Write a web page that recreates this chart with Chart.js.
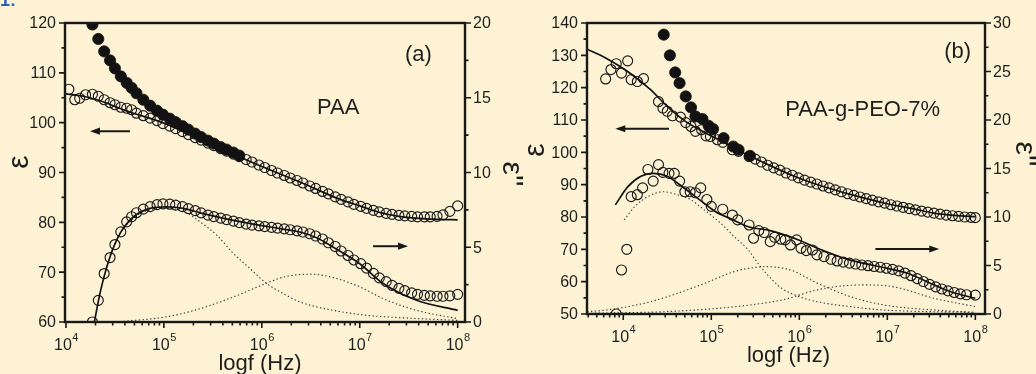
<!DOCTYPE html>
<html>
<head>
<meta charset="utf-8">
<title>Dielectric spectra of PAA and PAA-g-PEO-7%</title>
<script src="https://cdn.jsdelivr.net/npm/chart.js@4/dist/chart.umd.min.js"></script>
<style>
  html, body { margin: 0; padding: 0; background: #FDF3D4; }
  #wrap { position: relative; width: 1036px; height: 374px; overflow: hidden; background: #FDF3D4; }
  canvas { position: absolute; top: 0; }
  #paaCanvas { left: 0; width: 536px; height: 374px; }
  #pegCanvas { left: 518px; width: 518px; height: 374px; }
</style>
</head>
<body>
<div id="wrap">
  <canvas id="paaCanvas" width="536" height="374"></canvas>
  <canvas id="pegCanvas" width="518" height="374"></canvas>
</div>
<script>
// ---------- Panel (a): PAA ----------
// measurement frequencies, log10(f / Hz)
const paaLogF = [4.03,4.09,4.14,4.20,4.27,4.33,4.39,4.45,4.50,4.56,4.62,4.67,4.72,4.79,4.86,4.93,4.99,
  5.06,5.12,5.19,5.25,5.32,5.38,5.45,5.51,5.58,5.64,5.71,5.77,5.84,5.90,5.97,6.03,6.10,6.16,6.23,6.29,6.36,6.42,
  6.49,6.55,6.62,6.68,6.75,6.81,6.88,6.94,7.01,7.07,7.14,7.20,7.27,7.33,7.40,7.46,7.53,7.59,7.66,7.72,7.79,7.85,7.92,8.00];
// real permittivity (open circles, left axis)
const paaReal = [106.7,104.6,104.9,105.6,105.7,105.3,104.6,104.0,103.6,103.1,102.9,102.6,101.9,101.4,100.9,100.4,99.8,
  99.3,98.8,98.2,97.6,97.0,96.5,95.9,95.4,94.8,94.3,93.7,93.2,92.6,92.1,91.5,91.0,90.4,89.9,89.4,88.9,88.4,87.9,
  87.3,86.8,86.2,85.7,85.1,84.6,84.1,83.6,83.2,82.8,82.4,82.1,81.8,81.6,81.4,81.3,81.2,81.1,81.1,81.1,81.2,81.5,82.2,83.3];
// loss (open circles, right axis)
const paaLoss = [null,null,null,null,0.0,1.45,3.24,4.31,5.18,6.03,6.70,7.04,7.31,7.55,7.72,7.85,7.90,
  7.88,7.82,7.72,7.58,7.45,7.30,7.15,7.05,6.95,6.85,6.75,6.65,6.55,6.48,6.43,6.38,6.33,6.28,6.23,6.17,6.10,6.02,
  5.90,5.75,5.55,5.30,5.05,4.75,4.45,4.15,3.90,3.60,3.25,2.95,2.70,2.45,2.25,2.10,1.95,1.85,1.78,1.75,1.72,1.72,1.75,1.85];
// real permittivity before conductivity correction (filled circles, left axis)
const paaCond = [null,null,null,null,119.7,116.8,114.3,112.5,110.9,109.3,108.0,107.0,105.9,104.6,103.4,102.4,101.6,
  100.8,100.1,99.3,98.6,97.8,97.1,96.4,95.8,95.1,94.6,94.0,93.4];
// fitted curves (solid)
const paaFitRealLogF = [3.99,4.20,4.35,4.60,5.00,5.50,6.00,6.40,6.80,7.00,7.20,7.40,7.60,7.80,8.00];
const paaFitReal = [105.8,105.2,104.4,102.5,99.9,95.5,91.2,88.0,84.6,83.3,82.0,81.2,80.8,80.6,80.5];
const paaFitLossLogF = [4.29,4.35,4.45,4.55,4.69,4.86,5.03,5.20,5.37,5.50,5.71,6.00,6.23,6.40,6.57,6.73,7.00,7.24,7.58,8.00];
const paaFitLoss = [0.0,2.0,4.36,5.9,7.04,7.6,7.7,7.6,7.3,7.1,6.8,6.45,6.2,6.0,5.6,5.0,3.9,2.57,1.45,0.78];
// relaxation components (dotted)
const paaRelax1LogF = [4.45,4.55,4.70,4.85,5.00,5.12,5.23,5.37,5.54,5.71,5.88,6.05,6.22,6.39,6.73,7.07,7.41,8.00];
const paaRelax1 = [4.5,5.9,7.0,7.5,7.6,7.55,7.3,6.7,5.81,4.58,3.57,2.57,1.9,1.34,0.78,0.45,0.29,0.11];
const paaRelax2LogF = [4.55,5.03,5.37,5.71,6.00,6.22,6.49,6.73,7.00,7.24,7.58,8.00];
const paaRelax2 = [0.02,0.35,0.89,1.68,2.46,3.0,3.2,2.97,2.35,1.56,0.78,0.22];

// ---------- Panel (b): PAA-g-PEO-7% ----------
const pegRealLogF = [3.80,3.86,3.92,3.98,4.05,4.09,4.16,4.23,4.40,4.45,4.50,4.56,4.65,4.71,4.77,4.82,4.89,4.94,4.99,5.07,5.13,5.24,5.31,5.43,
  5.50,5.57,5.64,5.71,5.78,5.85,5.92,5.99,6.06,6.13,6.20,6.27,6.34,6.41,6.48,6.55,6.62,6.69,6.76,6.83,6.90,6.97,
  7.04,7.11,7.18,7.25,7.32,7.39,7.46,7.53,7.60,7.67,7.74,7.81,7.88,7.95,8.00];
const pegReal = [122.7,125.6,127.4,124.5,128.3,122.5,121.9,122.8,115.7,113.7,112.7,111.3,110.9,109.2,108.0,106.5,107.0,105.1,104.9,103.9,103.1,100.8,100.3,98.7,
  97.9,97.0,96.0,95.2,94.5,93.6,92.9,92.1,91.4,90.8,90.2,89.6,89.0,88.4,87.8,87.2,86.7,86.2,85.7,85.2,84.7,84.3,
  83.8,83.4,83.0,82.6,82.2,81.8,81.5,81.2,80.9,80.6,80.4,80.2,80.0,79.9,79.8];
const pegLossLogF = [3.92,3.98,4.04,4.09,4.16,4.22,4.28,4.34,4.40,4.45,4.52,4.58,4.64,4.70,4.76,4.82,4.88,4.95,5.00,5.13,5.24,5.30,5.43,5.48,
  5.54,5.60,5.67,5.72,5.79,5.84,5.90,5.97,6.02,6.08,6.15,6.20,6.28,6.36,6.43,6.50,6.57,6.64,6.71,6.78,6.85,6.92,
  6.99,7.06,7.13,7.20,7.27,7.34,7.41,7.48,7.55,7.62,7.69,7.76,7.83,7.90,8.00];
const pegLoss = [0.0,4.54,6.67,12.1,12.3,13.0,14.9,13.7,15.4,14.6,14.5,14.5,13.7,12.6,12.6,12.5,13.0,11.8,11.1,10.8,10.2,9.7,9.18,7.81,
  8.6,8.4,7.46,7.91,7.71,7.64,7.12,7.64,6.78,6.54,6.60,6.09,5.92,5.64,5.47,5.35,5.25,5.15,5.05,4.98,4.90,4.82,
  4.72,4.60,4.45,4.22,3.95,3.65,3.35,3.05,2.80,2.58,2.38,2.22,2.08,1.98,1.95];
const pegCondLogF = [4.46,4.53,4.59,4.64,4.71,4.77,4.82,4.90,4.97,5.02,5.14,5.25,5.31,5.44];
const pegCond = [136.4,130.0,124.7,121.4,117.3,113.9,111.1,110.3,108.2,107.2,104.4,101.8,100.8,98.9];
const pegFitRealLogF = [3.59,3.80,4.05,4.31,4.50,4.69,4.88,5.07,5.26,5.45,5.70,6.00,6.30,6.58,7.00,7.30,7.53,7.80,8.00];
const pegFitReal = [131.9,129.2,125.0,119.4,114.2,109.9,106.8,104.1,101.3,98.7,95.5,92.0,89.2,87.0,84.1,82.5,81.2,80.4,80.1];
const pegFitLossLogF = [3.91,4.05,4.20,4.34,4.50,4.66,4.85,5.04,5.25,5.42,5.67,5.85,6.00,6.20,6.43,6.58,7.00,7.23,7.53,7.72,8.00];
const pegFitLoss = [11.25,13.1,14.2,14.5,14.2,13.2,11.9,10.6,9.7,9.0,8.6,8.1,7.6,6.8,6.0,5.55,4.71,4.2,3.0,2.3,1.62];
const pegRelax1LogF = [4.01,4.13,4.28,4.45,4.62,4.77,4.92,5.04,5.15,5.26,5.42,5.53,5.64,5.80,6.00,6.20,6.58,6.96,8.00];
const pegRelax1 = [9.7,11.07,12.1,12.6,12.28,11.76,10.73,9.87,9.0,7.98,6.6,5.23,4.02,2.65,1.79,1.27,0.76,0.41,0.17];
const pegRelax2LogF = [3.59,3.80,4.31,4.88,5.26,5.42,5.62,5.90,6.20,6.58,6.96,7.53,8.00];
const pegRelax2 = [0.24,0.4,1.27,3.0,4.37,4.7,4.88,4.54,3.2,1.79,0.93,0.41,0.17];
const pegRelax3LogF = [3.59,4.50,5.07,5.50,5.83,6.20,6.50,6.73,7.00,7.15,7.53,8.00];
const pegRelax3 = [0.07,0.25,0.58,1.0,1.5,2.48,2.9,3.0,2.9,2.65,1.62,0.76];

// ---------- axis tick labels ----------
const decadeTicks = [4, 5, 6, 7, 8];
const paaLeftTicks = [60, 70, 80, 90, 100, 110, 120];
const paaRightTicks = [0, 5, 10, 15, 20];
const pegLeftTicks = [50, 60, 70, 80, 90, 100, 110, 120, 130, 140];
const pegRightTicks = [0, 5, 10, 15, 20, 25, 30];

const INK = '#181818';
const TXT = '#1e1e1e';
const FONT = '"Liberation Sans", Arial, Helvetica, sans-serif';

function toPoints(logF, vals) {
  const out = [];
  for (let i = 0; i < vals.length; i++) {
    if (vals[i] === null || vals[i] === undefined) continue;
    out.push({ x: Math.pow(10, logF[i]), y: vals[i] });
  }
  return out;
}
function openCircles(data, axis) {
  return { data, yAxisID: axis, showLine: false, pointStyle: 'circle', pointRadius: 5,
    pointBorderWidth: 1.15, pointBorderColor: '#1a1a1a', pointBackgroundColor: 'rgba(0,0,0,0)', order: 2 };
}
function filledCircles(data, axis) {
  return { data, yAxisID: axis, showLine: false, pointStyle: 'circle', pointRadius: 5.6,
    pointBorderWidth: 0.8, pointBorderColor: '#121212', pointBackgroundColor: '#121212', order: 0 };
}
function fitLine(data, axis) {
  return { data, yAxisID: axis, showLine: true, borderColor: '#121212', borderWidth: 1.7,
    pointRadius: 0, cubicInterpolationMode: 'monotone', fill: false, order: 1 };
}
function relaxLine(data, axis) {
  return { data, yAxisID: axis, showLine: true, borderColor: '#383838', borderWidth: 1.1,
    borderDash: [1.4, 2.4], pointRadius: 0, cubicInterpolationMode: 'monotone', fill: false, order: 3 };
}

function framePlugin(spec) {
  return {
    id: 'frame_' + spec.name,
    afterDraw(chart) {
      const ctx = chart.ctx, a = chart.chartArea, s = chart.scales;
      ctx.save();
      // tick marks
      ctx.strokeStyle = INK;
      ctx.lineWidth = 1.6;
      ctx.beginPath();
      const xMin = s.x.min, xMax = s.x.max;
      for (let e = Math.floor(Math.log10(xMin)); e <= Math.ceil(Math.log10(xMax)); e++) {
        for (let m = 1; m <= 9; m++) {
          const v = m * Math.pow(10, e);
          if (v < xMin || v > xMax) continue;
          const p = s.x.getPixelForValue(v);
          ctx.moveTo(p, a.bottom);
          ctx.lineTo(p, a.bottom + (m === 1 ? 6 : 3.5));
        }
      }
      const yTicks = (scale, ticks, edge, dir) => {
        ticks.forEach((t, i) => {
          const p = scale.getPixelForValue(t);
          ctx.moveTo(edge, p); ctx.lineTo(edge + dir * 6, p);
          if (i < ticks.length - 1) {
            const q = scale.getPixelForValue((t + ticks[i + 1]) / 2);
            ctx.moveTo(edge, q); ctx.lineTo(edge + dir * 3.5, q);
          }
        });
      };
      yTicks(s.yL, spec.leftTicks, a.left, -1);
      yTicks(s.yR, spec.rightTicks, a.right, 1);
      ctx.stroke();

      // frame
      ctx.lineWidth = 2.4;
      ctx.strokeRect(a.left, a.top, a.right - a.left, a.bottom - a.top);

      // y tick labels
      ctx.fillStyle = TXT;
      ctx.font = '16px ' + FONT;
      ctx.textBaseline = 'middle';
      ctx.textAlign = 'right';
      spec.leftTicks.forEach(t => ctx.fillText(String(t), a.left - 9, s.yL.getPixelForValue(t) + 1));
      ctx.textAlign = 'left';
      spec.rightTicks.forEach(t => ctx.fillText(String(t), a.right + 8, s.yR.getPixelForValue(t) + 1));

      // x tick labels: 10 with a superscript exponent
      ctx.textBaseline = 'alphabetic';
      decadeTicks.forEach(e => {
        const p = s.x.getPixelForValue(Math.pow(10, e));
        ctx.font = '16px ' + FONT;
        const wBase = ctx.measureText('10').width;
        ctx.font = '11px ' + FONT;
        const wExp = ctx.measureText(String(e)).width;
        const x0 = p - (wBase + wExp) / 2;
        ctx.font = '16px ' + FONT;
        ctx.textAlign = 'left';
        ctx.fillText('10', x0, a.bottom + 28);
        ctx.font = '11px ' + FONT;
        ctx.fillText(String(e), x0 + wBase + 0.5, a.bottom + 19);
      });

      // axis titles
      ctx.font = '22px ' + FONT;
      ctx.textAlign = 'center';
      ctx.fillText('logf (Hz)', spec.xTitle[0], spec.xTitle[1]);
      ctx.font = '30px ' + FONT;
      spec.yTitles.forEach(t => {
        ctx.save();
        ctx.translate(t.x, t.y);
        ctx.rotate(t.rot);
        ctx.textAlign = 'center';
        ctx.textBaseline = 'alphabetic';
        ctx.fillText(t.text, 0, 0);
        ctx.restore();
      });

      // in-plot labels
      ctx.textBaseline = 'middle';
      ctx.textAlign = 'center';
      spec.notes.forEach(n => {
        ctx.font = n.size + 'px ' + FONT;
        ctx.fillText(n.text, s.x.getPixelForValue(Math.pow(10, n.lf)), s[n.axis].getPixelForValue(n.y));
      });

      // direction arrows
      ctx.fillStyle = INK;
      ctx.lineWidth = 2;
      spec.arrows.forEach(ar => {
        const y = s[ar.axis].getPixelForValue(ar.y);
        const x1 = s.x.getPixelForValue(Math.pow(10, ar.from));
        const x2 = s.x.getPixelForValue(Math.pow(10, ar.to));
        const d = Math.sign(x2 - x1);
        ctx.beginPath();
        ctx.moveTo(x1, y); ctx.lineTo(x2 - d * 8, y);
        ctx.stroke();
        ctx.beginPath();
        ctx.moveTo(x2, y);
        ctx.lineTo(x2 - d * 10, y - 3.6);
        ctx.lineTo(x2 - d * 10, y + 3.6);
        ctx.closePath();
        ctx.fill();
      });

      // figure tag
      if (spec.tag) {
        ctx.fillStyle = '#2d5fb8';
        ctx.font = 'bold 18px ' + FONT;
        ctx.textAlign = 'left';
        ctx.textBaseline = 'alphabetic';
        ctx.fillText(spec.tag, 0, 6);
      }
      ctx.restore();
    }
  };
}

function buildChart(canvasId, spec) {
  return new Chart(document.getElementById(canvasId), {
    type: 'line',
    data: { datasets: spec.datasets },
    options: {
      responsive: false,
      devicePixelRatio: 1,
      animation: false,
      events: [],
      layout: { padding: spec.padding },
      plugins: { legend: { display: false }, tooltip: { enabled: false } },
      scales: {
        x: { type: 'logarithmic', display: false, bounds: 'data',
             min: Math.pow(10, spec.xRange[0]), max: Math.pow(10, spec.xRange[1]) },
        yL: { type: 'linear', position: 'left', display: false,
              min: spec.leftTicks[0], max: spec.leftTicks[spec.leftTicks.length - 1] },
        yR: { type: 'linear', position: 'right', display: false,
              min: spec.rightTicks[0], max: spec.rightTicks[spec.rightTicks.length - 1] }
      }
    },
    plugins: [framePlugin(spec)]
  });
}

buildChart('paaCanvas', {
  name: 'paa',
  padding: { left: 65, right: 71, top: 23, bottom: 52 },
  xRange: [3.99, 8.075],
  leftTicks: paaLeftTicks,
  rightTicks: paaRightTicks,
  xTitle: [260, 370],
  yTitles: [
    { text: 'ε', x: 28, y: 162, rot: -Math.PI / 2 },
    { text: "ε''", x: 503, y: 174, rot: Math.PI / 2 }
  ],
  notes: [
    { text: '(a)', lf: 7.6, y: 113.6, axis: 'yL', size: 22 },
    { text: 'PAA', lf: 6.78, y: 103.0, axis: 'yL', size: 22 }
  ],
  arrows: [
    { from: 4.654, to: 4.245, y: 98.3, axis: 'yL' },
    { from: 7.136, to: 7.493, y: 5.07, axis: 'yR' }
  ],
  tag: '1:',
  datasets: [
    relaxLine(toPoints(paaRelax1LogF, paaRelax1), 'yR'),
    relaxLine(toPoints(paaRelax2LogF, paaRelax2), 'yR'),
    openCircles(toPoints(paaLogF, paaReal), 'yL'),
    openCircles(toPoints(paaLogF, paaLoss), 'yR'),
    fitLine(toPoints(paaFitRealLogF, paaFitReal), 'yL'),
    fitLine(toPoints(paaFitLossLogF, paaFitLoss), 'yR'),
    filledCircles(toPoints(paaLogF, paaCond), 'yL')
  ]
});

buildChart('pegCanvas', {
  name: 'peg',
  padding: { left: 69, right: 51, top: 23, bottom: 60 },
  xRange: [3.588, 8.11],
  leftTicks: pegLeftTicks,
  rightTicks: pegRightTicks,
  xTitle: [270.5, 362],
  yTitles: [
    { text: 'ε', x: 26, y: 150, rot: -Math.PI / 2 },
    { text: "ε''", x: 498, y: 154, rot: Math.PI / 2 }
  ],
  notes: [
    { text: '(b)', lf: 7.8, y: 131.1, axis: 'yL', size: 22 },
    { text: 'PAA-g-PEO-7%', lf: 6.72, y: 113.2, axis: 'yL', size: 22 }
  ],
  arrows: [
    { from: 4.52, to: 3.91, y: 107.3, axis: 'yL' },
    { from: 6.864, to: 7.59, y: 6.7, axis: 'yR' }
  ],
  tag: null,
  datasets: [
    relaxLine(toPoints(pegRelax1LogF, pegRelax1), 'yR'),
    relaxLine(toPoints(pegRelax2LogF, pegRelax2), 'yR'),
    relaxLine(toPoints(pegRelax3LogF, pegRelax3), 'yR'),
    openCircles(toPoints(pegRealLogF, pegReal), 'yL'),
    openCircles(toPoints(pegLossLogF, pegLoss), 'yR'),
    fitLine(toPoints(pegFitRealLogF, pegFitReal), 'yL'),
    fitLine(toPoints(pegFitLossLogF, pegFitLoss), 'yR'),
    filledCircles(toPoints(pegCondLogF, pegCond), 'yL')
  ]
});
</script>
</body>
</html>
